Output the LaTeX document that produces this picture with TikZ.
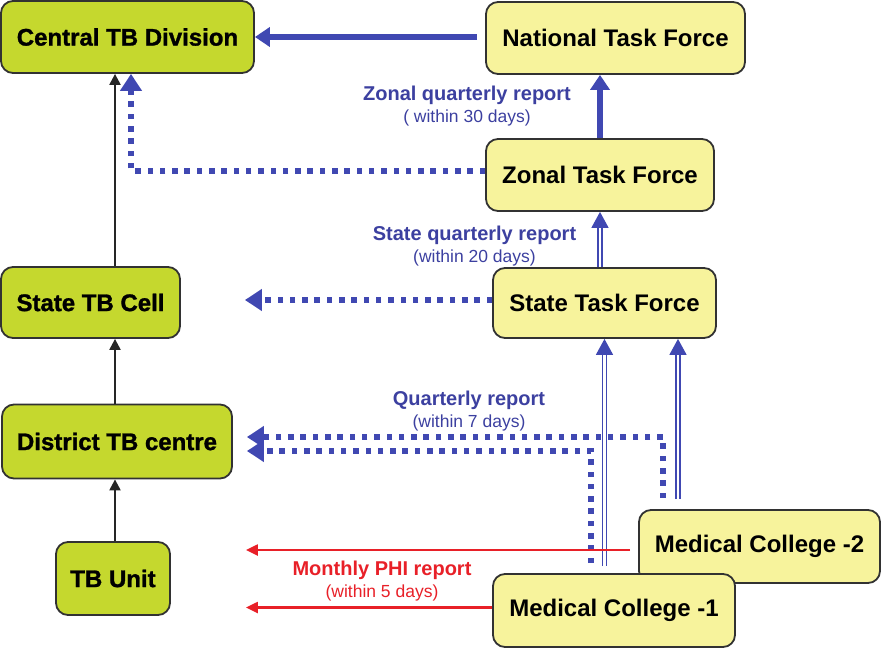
\documentclass[tikz,border=0pt]{standalone}
\usepackage{fontspec}
\setmainfont{Liberation Sans}
\newfontfamily\heavyfont[FakeBold=1.2]{Liberation Sans Bold}
\usetikzlibrary{arrows.meta,calc}
\definecolor{tbgreen}{RGB}{197,216,46}
\definecolor{tfyellow}{RGB}{247,243,156}
\definecolor{boxline}{RGB}{50,50,50}
\definecolor{rptblue}{RGB}{64,72,178}
\definecolor{rpttext}{RGB}{60,64,160}
\definecolor{rptred}{RGB}{232,32,40}
\tikzset{
  greenbox/.style={draw=boxline,line width=1.8pt,rounded corners=12pt,fill=tbgreen,
    inner sep=0pt,font=\fontsize{24}{28}\selectfont\heavyfont},
  yellowbox/.style={draw=boxline,line width=1.8pt,rounded corners=12pt,fill=tfyellow,
    inner sep=0pt,font=\fontsize{24}{28}\selectfont\bfseries},
  uplink/.style={-{Triangle[width=11pt,length=11pt]},line width=2.2pt,black!85},
  bluesolid/.style={-{Triangle[width=19pt,length=15pt]},line width=5.5pt,rptblue},
  bluedots/.style={-{Triangle[width=21pt,length=17pt]},line width=5.2pt,rptblue,
    dash pattern=on 5.5pt off 6.8pt},
  bluedouble/.style={-{Triangle[width=17pt,length=16pt]},double=white,
    double distance=2.5pt,line width=1.6pt,rptblue},
  redlink/.style={-{Triangle[width=11pt,length=12pt]},line width=2.2pt,rptred},
  bluelbl/.style={text=rpttext,align=center,font=\fontsize{20}{22}\selectfont\bfseries},
  redlbl/.style={bluelbl,text=rptred}
}
\newcommand{\daysnote}[1]{{\fontsize{17.5}{22}\selectfont\mdseries #1}}

\begin{document}
\begin{tikzpicture}[x=1pt,y=-1pt]
    \useasboundingbox (0,0) rectangle (881,648);
    \coordinate (spine) at (115,0);

    % RNTCP side
    \node[greenbox,minimum width=253pt,minimum height=72pt] (ctb) at (127.5,37) {Central TB Division};
    \node[greenbox,minimum width=179pt,minimum height=71pt] (stc) at (90.5,302.5) {State TB Cell};
    \node[greenbox,minimum width=230pt,minimum height=74pt] (dtc) at (117,441.5) {District TB centre};
    \node[greenbox,minimum width=114pt,minimum height=73pt] (tbu) at (113,578.5) {TB Unit};

    % task forces
    \node[yellowbox,minimum width=259pt,minimum height=72pt] (nat) at (615.5,38) {National Task Force};
    \node[yellowbox,minimum width=228pt,minimum height=72pt] (ztf) at (600,175) {Zonal Task Force};
    \node[yellowbox,minimum width=223pt,minimum height=70pt] (stf) at (604.5,303) {State Task Force};
    \node[yellowbox,minimum width=241pt,minimum height=73pt] (mc2) at (759.5,546.5) {Medical College -2};
    \node[yellowbox,minimum width=242pt,minimum height=73pt] (mc1) at (614,610.5) {Medical College -1};

    % labels
    \node[bluelbl] (zlab) at (467,106) {Zonal quarterly report\\\daysnote{( within 30 days)}};
    \node[bluelbl] (slab) at (474.5,246) {State quarterly report\\\daysnote{(within 20 days)}};
    \node[bluelbl] (qlab) at (469,411) {Quarterly report\\\daysnote{(within 7 days)}};
    \node[redlbl] (mlab) at (382,581) {Monthly PHI report\\\daysnote{(within 5 days)}};

    % black chain
    \draw[uplink] (tbu.north -| spine) -- (dtc.south -| spine);
    \draw[uplink] (dtc.north -| spine) -- (stc.south -| spine);
    \draw[uplink] (stc.north -| spine) -- (ctb.south -| spine);

    % quarterly reports
    \draw[bluedots] ([yshift=4pt]ztf.west) -| ([xshift=3.5pt]ctb.south);
    \draw[bluedots,shorten >=64pt] ([yshift=3pt]stf.west) -- ([yshift=3pt]stf.west -| stc.east);
    \draw[bluedots,shorten <=11pt,shorten >=14pt] ([xshift=-96.5pt]mc2.north) |- ([yshift=4.5pt]dtc.east);
    \draw[bluedots,shorten <=10pt,shorten >=14pt] ([xshift=-23pt]mc1.north) |- ([yshift=-9.5pt]dtc.east);

    \draw[bluesolid,shorten <=8pt] (nat.west |- ctb.east) -- (ctb.east);
    \draw[bluesolid] (ztf.north) -- (ztf.north |- nat.south);
    \draw[bluedouble] (ztf.south |- stf.north) -- (ztf.south);
    \draw[bluedouble,shorten <=7pt] (stf.south |- mc1.north) -- (stf.south);
    \draw[bluedouble,shorten <=10pt] ([xshift=-81.5pt]mc2.north) -- ([xshift=-81.5pt]mc2.north |- stf.south);

    % monthly reports
    \draw[redlink,shorten <=8pt,shorten >=13pt] ([yshift=-3.5pt]mc2.west) -- ([yshift=-3.5pt]mc2.west -| dtc.east);
    \draw[redlink,shorten >=13pt] ([yshift=3pt]mc1.west) -- ([yshift=3pt]mc1.west -| dtc.east);
\end{tikzpicture}
\end{document}
